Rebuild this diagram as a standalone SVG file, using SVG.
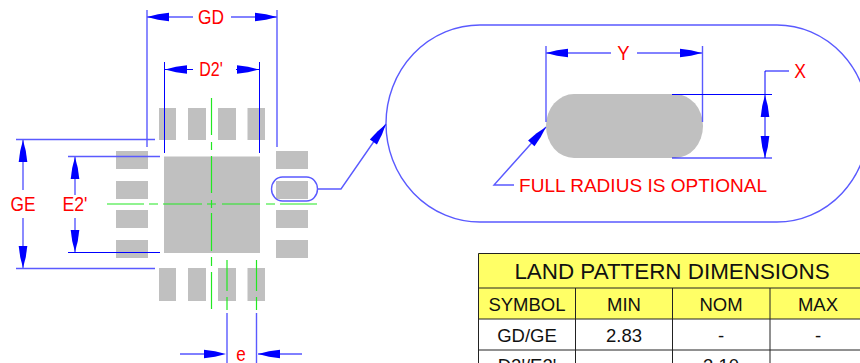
<svg xmlns="http://www.w3.org/2000/svg" width="860" height="363" viewBox="0 0 860 363">
<style>
text{font-family:"Liberation Sans",Arial,sans-serif}
.r{fill:#f00;font-size:20px;text-anchor:middle}
.l{stroke:#00f;stroke-width:1;fill:none}
.s{stroke:#5a5aff;stroke-width:1.4;fill:none}
.g{stroke:#22e822;stroke-width:1.2;fill:none}
.p{fill:#c0c0c0}
.a{fill:#00f}
.t{fill:#111;font-size:18.500px;text-anchor:middle}
.k{stroke:#222;stroke-width:1;fill:none}
</style>
<defs><path id="ah" class="a" d="M0 0L-11 -2.800L-22 -4.300V4.300L-11 2.800Z"/></defs>
<rect width="860" height="363" fill="#fff"/>
<g id="pads">
<rect class="p" x="159" y="108" width="17" height="32"/><rect class="p" x="188" y="108" width="18" height="32"/><rect class="p" x="218" y="108" width="18" height="32"/><rect class="p" x="247.500" y="108" width="17.500" height="32"/>
<rect class="p" x="159" y="268" width="17" height="33"/><rect class="p" x="188" y="268" width="18" height="33"/><rect class="p" x="218" y="268" width="18" height="33"/><rect class="p" x="247.500" y="268" width="17.500" height="33"/>
<rect class="p" x="116" y="151" width="32" height="18"/><rect class="p" x="116" y="181" width="32" height="18"/><rect class="p" x="116" y="210" width="32" height="18"/><rect class="p" x="116" y="240" width="32" height="18"/>
<rect class="p" x="276" y="151" width="32" height="18"/><rect class="p" x="276" y="181" width="32" height="18"/><rect class="p" x="276" y="210" width="32" height="18"/><rect class="p" x="276" y="240" width="32" height="18"/>
<rect class="p" x="164" y="156.500" width="96" height="96.500"/>
</g>
<g id="centerlines">
<path class="g" d="M107 204H144M149 204H158M163 204H202M207 204H216M222 204H260M266 204H275M280 204H317"/>
<path class="g" d="M211.500 98V135M211.500 142V150M211.500 156V193M211.500 200V208M211.500 213V251M211.500 257V266M211.500 272V309"/>
<path class="g" d="M227 260V291M227 297V310M256.500 260V291M256.500 297V310"/>
</g>
<g id="dimensions">
<path class="s" d="M147 10V147M277 10V147M147 17H193M231 17H277"/>
<path class="l" d="M164.500 62V153M259.500 62V153M165 69.500H193M236 69.500H259"/>
<path class="s" d="M16 139.500H155M16 268.500H155M23 140V190M23 218V268"/>
<path class="s" d="M68 156.500H160M75 157V195M75 218V252"/>
<path class="l" d="M68 252.500H160"/>
<path class="s" d="M227 313V363M256.500 313V363"/>
<path class="l" d="M180 354H205M258 354H302"/>
<use href="#ah" transform="translate(147 17) rotate(180)"/>
<use href="#ah" transform="translate(277 17)"/>
<use href="#ah" transform="translate(165 69.500) rotate(180)"/>
<use href="#ah" transform="translate(259 69.500)"/>
<use href="#ah" transform="translate(23 140) rotate(-90)"/>
<use href="#ah" transform="translate(23 268) rotate(90)"/>
<use href="#ah" transform="translate(75 157) rotate(-90)"/>
<use href="#ah" transform="translate(75 252) rotate(90)"/>
<use href="#ah" transform="translate(226 354)"/>
<use href="#ah" transform="translate(258 354) rotate(180)"/>
<text class="r" x="211" y="24" textLength="26" lengthAdjust="spacingAndGlyphs">GD</text>
<text class="r" x="211" y="76" textLength="23.500" lengthAdjust="spacingAndGlyphs">D2'</text>
<text class="r" x="23" y="211" textLength="25" lengthAdjust="spacingAndGlyphs">GE</text>
<text class="r" x="75" y="211" textLength="25" lengthAdjust="spacingAndGlyphs">E2'</text>
<text class="r" x="241" y="361" textLength="9.500" lengthAdjust="spacingAndGlyphs">e</text>
</g>
<g id="detail">
<rect class="p" x="546" y="94" width="157" height="64" rx="28" ry="32"/>
<path class="s" stroke-width="1" d="M480 25H777A92 98.500 0 0 1 777 222H480A94 98.500 0 0 1 480 25Z"/>
<path class="s" d="M546 46V122M702.500 46V122M546 53H611M637 53H702"/>
<path class="l" d="M672 94.500H772M672 158H772M765 71V158M765 71H789"/>
<use href="#ah" transform="translate(546 53) rotate(180)"/>
<use href="#ah" transform="translate(702 53)"/>
<use href="#ah" transform="translate(765 95) rotate(-90)"/>
<use href="#ah" transform="translate(765 158) rotate(90)"/>
<path class="s" d="M546 127L494 185H514"/>
<use href="#ah" transform="translate(546 127) rotate(-48)"/>
<text class="r" x="623.500" y="60" textLength="12.300" lengthAdjust="spacingAndGlyphs">Y</text>
<text class="r" x="800" y="78" textLength="11.700" lengthAdjust="spacingAndGlyphs">X</text>
<text class="r" x="643" y="192" style="font-size:19px" textLength="248" lengthAdjust="spacingAndGlyphs">FULL RADIUS IS OPTIONAL</text>
</g>
<g id="callout">
<rect class="s" x="271.500" y="177" width="46" height="24" rx="11" ry="12"/>
<path class="s" d="M318 189H341L386 124"/>
<use href="#ah" transform="translate(386 124) rotate(-55)"/>
</g>
<g id="table">
<rect x="478" y="253" width="400" height="66" fill="#ffff66"/>
<path class="k" stroke-width="1.200" d="M478.500 363V253.500H860M478 288H860M478 319H860M478 350H860M575.500 288V363M672.500 288V363M770 288V363"/>
<text class="t" x="672" y="279" style="font-size:22.400px">LAND PATTERN DIMENSIONS</text>
<text class="t" x="527" y="311">SYMBOL</text><text class="t" x="624" y="311">MIN</text><text class="t" x="721" y="311">NOM</text><text class="t" x="818" y="311">MAX</text>
<text class="t" x="527" y="342">GD/GE</text><text class="t" x="624" y="342">2.83</text><text class="t" x="721" y="342">-</text><text class="t" x="818" y="342">-</text>
<text class="t" x="527" y="372">D2'/E2'</text><text class="t" x="721" y="372">3.10</text>
</g>
</svg>
